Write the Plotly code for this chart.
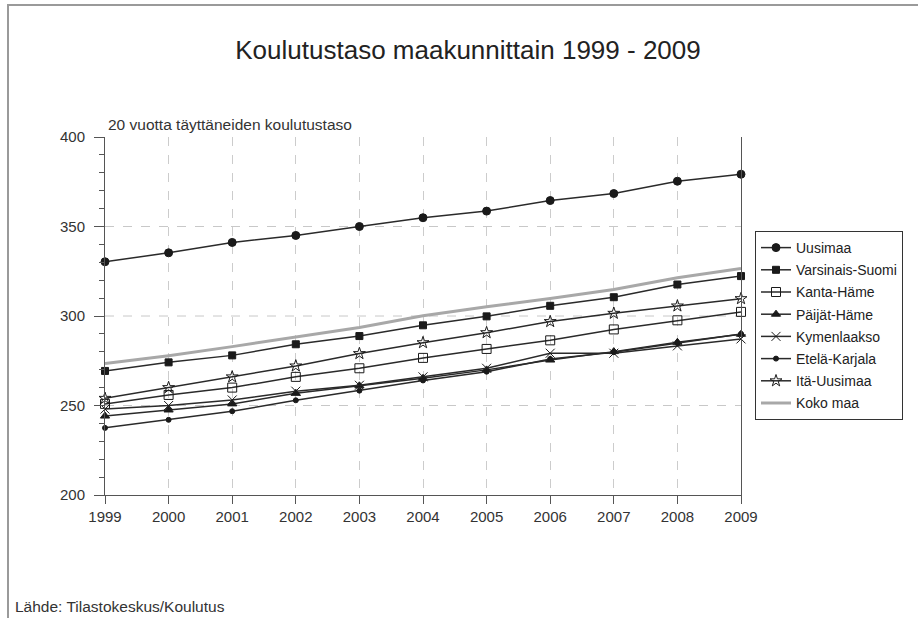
import plotly.graph_objects as go

years = [1999, 2000, 2001, 2002, 2003, 2004, 2005, 2006, 2007, 2008, 2009]

uusimaa = [330.3, 335.3, 341.1, 345.0, 350.0, 354.9, 358.6, 364.5, 368.4, 375.3, 379.2]
varsinais_suomi = [269.3, 274.1, 278.0, 284.2, 288.8, 294.8, 299.8, 305.7, 310.5, 317.6, 322.3]
kanta_hame = [250.9, 255.9, 260.0, 266.0, 270.8, 276.6, 281.6, 286.4, 292.5, 297.6, 302.3]
paijat_hame = [244.1, 247.5, 250.9, 256.8, 261.0, 265.2, 269.9, 275.4, 280.1, 285.3, 289.8]
kymenlaakso = [248.0, 250.0, 253.1, 258.0, 261.3, 266.0, 270.8, 279.2, 279.2, 283.3, 287.2]
etela_karjala = [237.5, 242.0, 246.8, 252.9, 258.3, 264.0, 268.9, 276.0, 279.8, 284.9, 290.0]
ita_uusimaa = [254.0, 260.0, 266.0, 272.1, 279.0, 285.1, 290.7, 296.9, 301.5, 305.6, 309.7]
koko_maa = [273.4, 277.8, 282.9, 288.4, 293.6, 300.1, 305.2, 309.8, 314.8, 321.4, 326.6]

series = [
    ("Uusimaa", uusimaa, "circle", 8),
    ("Varsinais-Suomi", varsinais_suomi, "square", 7),
    ("Kanta-Häme", kanta_hame, "square-open", 9),
    ("Päijät-Häme", paijat_hame, "triangle-up", 8),
    ("Kymenlaakso", kymenlaakso, "x-thin-open", 9),
    ("Etelä-Karjala", etela_karjala, "circle", 5),
    ("Itä-Uusimaa", ita_uusimaa, "star-open", 9),
]

y_grid = [250, 300, 350]

title_text = "Koulutustaso maakunnittain 1999 - 2009"
subtitle_text = "20 vuotta täyttäneiden koulutustaso"
source_text = "Lähde: Tilastokeskus/Koulutus"

W, H = 918, 618
L, T, PW, PH = 105, 137, 636, 358


def px(x):
    return (x - L) / PW


def py(y):
    return (T + PH - y) / PH


fig = go.Figure()
for i, (name, vals, sym, size) in enumerate(series):
    fig.add_trace(go.Scatter(
        x=years, y=vals, name=name, mode="lines+markers",
        line=dict(color="#2a2a2a", width=1.5),
        marker=dict(symbol=sym, size=size, color="#1a1a1a",
                    line=dict(color="#1a1a1a", width=1)),
        cliponaxis=False, legendgroup=f"g{i}",
    ))
fig.add_trace(go.Scatter(
    x=years, y=koko_maa, name="Koko maa", mode="lines",
    line=dict(color="#a8a8a8", width=3), cliponaxis=False, legendgroup="g7",
))

shapes = []
for g in y_grid:
    shapes.append(dict(type="line", xref="x", yref="y", x0=years[0], x1=years[-1], y0=g, y1=g,
                       line=dict(color="#c8c8c8", width=1, dash="dash"), layer="below"))
# outer frame
shapes.append(dict(type="rect", xref="paper", yref="paper",
                   x0=px(8), x1=px(940), y0=py(640), y1=py(5),
                   line=dict(color="#9a9a9a", width=2), layer="below"))

fig.update_layout(
    width=W, height=H,
    margin=dict(l=L, r=W - L - PW, t=T, b=H - T - PH),
    paper_bgcolor="white", plot_bgcolor="white",
    font=dict(family="Liberation Sans, Arial, sans-serif", color="#333333", size=15),
    title=dict(text=title_text, x=468 / W, xanchor="center", y=1 - 50 / H, yanchor="middle",
               font=dict(size=26, color="#222222")),
    showlegend=True,
    legend=dict(x=px(755), y=py(231), xanchor="left", yanchor="top",
                bordercolor="#333333", borderwidth=1, bgcolor="white",
                font=dict(size=14, color="#222222"), tracegroupgap=1,
                itemwidth=30),
    shapes=shapes,
    annotations=[
        dict(text=subtitle_text, xref="paper", yref="paper", x=px(106), y=py(125),
             xanchor="left", yanchor="middle", showarrow=False, font=dict(size=15.5, color="#333333")),
        dict(text=source_text, xref="paper", yref="paper", x=px(13), y=py(606),
             xanchor="left", yanchor="middle", showarrow=False, font=dict(size=15.5, color="#333333")),
    ],
)

fig.update_xaxes(
    range=[1999, 2009], tickmode="array", tickvals=years, ticktext=[str(y) for y in years],
    showline=True, linecolor="#555555", linewidth=1,
    ticks="outside", ticklen=8, tickcolor="#555555",
    showgrid=True, gridcolor="#cccccc", griddash="dash", gridwidth=1,
    zeroline=False, tickfont=dict(size=15, color="#333333"),
)
fig.update_yaxes(
    range=[200, 400], tickmode="linear", tick0=200, dtick=50,
    showline=True, linecolor="#555555", linewidth=1, mirror=True,
    ticks="outside", ticklen=10, tickcolor="#555555", ticklabelstandoff=6,
    minor=dict(dtick=10, ticks="outside", ticklen=5, tickcolor="#555555", showgrid=False),
    showgrid=False, zeroline=False, tickfont=dict(size=15, color="#333333"),
)

fig.write_html("out.html", config={"displayModeBar": False},
               post_script="document.body.style.margin='0px';")
